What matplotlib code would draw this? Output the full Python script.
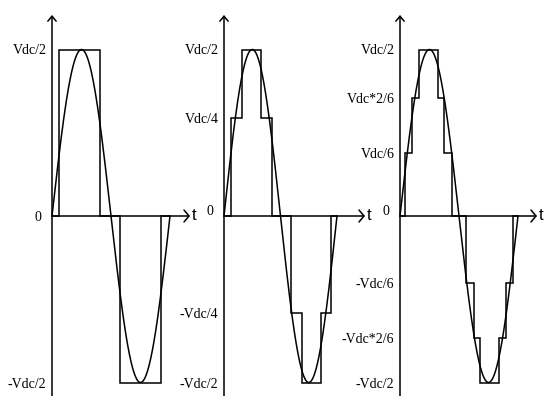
import matplotlib.pyplot as plt
import numpy as np

plt.rcParams['font.family'] = 'Liberation Serif'

# switching angles (deg) and step levels (sine peak = 1) for each waveform
edges_two = [0, 21, 146, 207, 333, 360]
levels_two = [0, 1, 0, -1, 0]
ticks_two = [1, -1]
labels_two = ['Vdc/2', '-Vdc/2']

edges_five = [0, 22, 57, 118, 153, 213, 248, 309, 341, 360]
levels_five = [0, 0.59, 1, 0.59, 0, -0.58, -1, -0.58, 0]
ticks_five = [1, 0.59, -0.58, -1]
labels_five = ['Vdc/2', 'Vdc/4', '-Vdc/4', '-Vdc/2']

edges_seven = [0, 15, 37, 58, 116, 134, 159, 201, 226, 244, 302, 323, 345, 360]
levels_seven = [0, 0.38, 0.71, 1, 0.71, 0.38, 0, -0.40, -0.73, -1, -0.73, -0.40, 0]
ticks_seven = [1, 0.71, 0.38, -0.40, -0.73, -1]
labels_seven = ['Vdc/2', 'Vdc*2/6', 'Vdc/6', '-Vdc/6', '-Vdc*2/6', '-Vdc/2']

W, H = 547, 396
zero_px, amp_px = 216, 166.5
# (origin px, period px, arrow tip px, zero label dy)
layout = [(52, 118, 190, -1), (224, 113, 365, 3), (400, 118, 537, 3)]
panels = [(edges_two, levels_two, ticks_two, labels_two),
          (edges_five, levels_five, ticks_five, labels_five),
          (edges_seven, levels_seven, ticks_seven, labels_seven)]

fig = plt.figure(figsize=(W / 100, H / 100), dpi=100)
ybot = -(H - zero_px) / amp_px
ytop = zero_px / amp_px
yarrow = (zero_px - 15) / amp_px
lw = 1.1

theta = np.linspace(0, 360, 400)

for (x0, per, tip, dy), (edges, levels, ticks, labels) in zip(layout, panels):
    ax = fig.add_axes([x0 / W, 0, (tip - x0) / W, 1])
    xmax = 360 * (tip - x0) / per
    ax.set_xlim(0, xmax)
    ax.set_ylim(ybot, ytop)
    ax.patch.set_visible(False)
    for s in ax.spines.values():
        s.set_visible(False)
    ax.set_xticks([])
    ax.set_yticks(ticks)
    ax.set_yticklabels(labels, fontsize=10)
    ax.tick_params(axis='y', length=0, pad=4)

    ax.plot(theta, np.sin(np.radians(theta)), color='k', lw=lw, clip_on=False)
    ax.stairs(levels, edges, color='k', lw=lw, clip_on=False)

    ax.annotate('', xy=(0, yarrow), xytext=(0, ybot),
                arrowprops=dict(arrowstyle='->,head_length=3.6,head_width=3',
                                mutation_scale=1, lw=lw, color='k',
                                shrinkA=0, shrinkB=0), annotation_clip=False)
    ax.annotate('', xy=(xmax, 0), xytext=(0, 0),
                arrowprops=dict(arrowstyle='->,head_length=3.6,head_width=4.3',
                                mutation_scale=1, lw=lw, color='k',
                                shrinkA=0, shrinkB=0), annotation_clip=False)
    ax.annotate('t', xy=(xmax, 0), xytext=(1.5, 0), textcoords='offset points',
                ha='left', va='center', fontsize=12, family='Liberation Sans',
                annotation_clip=False)
    ax.annotate('0', xy=(0, 0), xytext=(-8, dy), textcoords='offset points',
                ha='right', va='center', fontsize=10, annotation_clip=False)

fig.savefig('out.png', dpi=100)
